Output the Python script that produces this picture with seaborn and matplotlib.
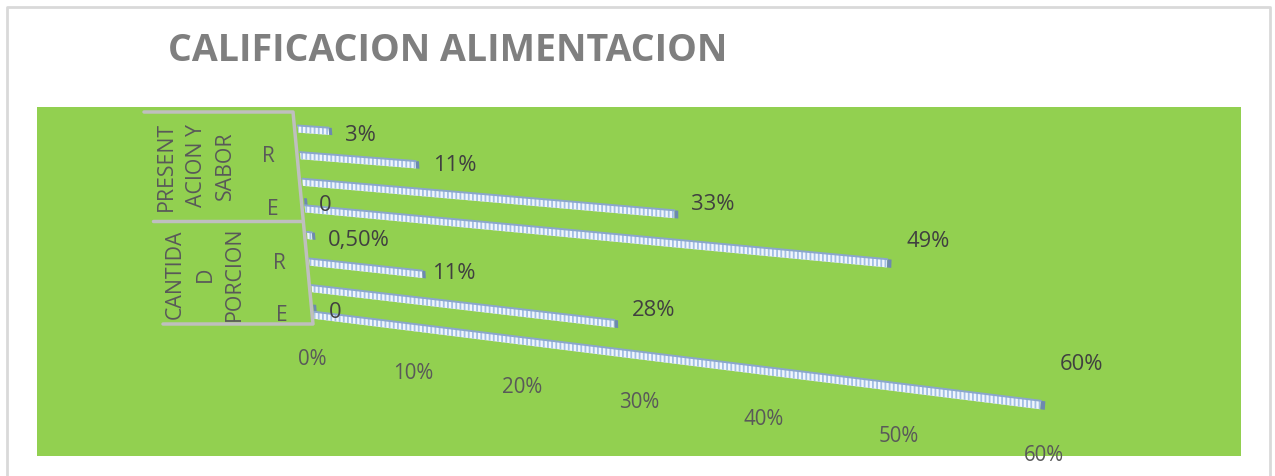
import matplotlib
matplotlib.use("Agg")
import matplotlib.pyplot as plt
import numpy as np
import pandas as pd
import seaborn as sns
from matplotlib.lines import Line2D
from matplotlib.patches import Rectangle
from matplotlib.transforms import Affine2D, Transform

grupos = ["PRESENTACION Y SABOR"] * 4 + ["CANTIDAD PORCION"] * 4
criterios = ["M", "R", "B", "E", "M", "R", "B", "E"]
serie_1 = [3, 11, 33, 49, 0.5, 11, 28, 60]
serie_2 = [np.nan, np.nan, np.nan, 0, np.nan, np.nan, np.nan, 0]
etiquetas_1 = ["3%", "11%", "33%", "49%", "0,50%", "11%", "28%", "60%"]
ticks = [0, 10, 20, 30, 40, 50, 60]

W, H = 1275, 477
px = Affine2D().scale(1, -1).translate(0, H)  # image pixels, y going down


class Perspectiva(Transform):
    # Excel 3D bar look: value axis recedes, rows fan out
    input_dims = 2
    output_dims = 2
    has_inverse = False

    def __init__(self, filas=True):
        super().__init__()
        self.filas = filas

    def transform_non_affine(self, values):
        values = np.asarray(values, dtype=float)
        v, r = values[:, 0], values[:, 1]
        d = 9.86 * v / (1 - 0.0032 * v)
        pendiente = 0.07 + 0.007 * r
        if self.filas:
            d = d * (1.035 - 0.006 * r)
            pendiente = 0.07 + 0.0075 * r
        x = 298 + 2.3 * (r - 0.125) + d
        y = 126.5 + 26.6 * r + pendiente * d
        return np.column_stack([x, H - y])


persp = Perspectiva()
persp_suelo = Perspectiva(filas=False)

sns.set_theme(style="white")
plt.rcParams["font.family"] = ["Open Sans", "DejaVu Sans"]
plt.rcParams["hatch.linewidth"] = 1.3

orden = [g + " " + c + str(i) for i, (g, c) in enumerate(zip(grupos, criterios))]
df = pd.DataFrame({
    "fila": orden * 2,
    "valor": serie_2 + serie_1,
    "serie": ["s2"] * 8 + ["s1"] * 8,
}).dropna()

fig = plt.figure(figsize=(W / 100, H / 100), dpi=100, facecolor="white")
ax = fig.add_axes([37 / W, 1 - 456.6 / H, (1241 - 37) / W, (456 - 107) / H], facecolor="#92d050")

sns.barplot(data=df, y="fila", x="valor", hue="serie", order=orden, hue_order=["s2", "s1"],
            width=0.54, errorbar=None, legend=False, ax=ax, color="#dbe8f7")
ax.set_xlabel("")
ax.set_ylabel("")
ax.set_xticks([])
ax.set_yticks([])
sns.despine(ax=ax, left=True, bottom=True)

# move every bar from the flat axes to the skewed projection, add top edge and end cap
barras = []
for patch in list(ax.patches):
    x0, y0 = patch.get_x(), patch.get_y()
    w, h = patch.get_width(), patch.get_height()
    barras.append((w, y0 + h / 2))
    patch.set_transform(persp)
    patch.set_clip_on(False)
    patch.set_facecolor("#f0f6fd")
    patch.set_edgecolor("#a3bfe4")
    patch.set_linewidth(0)
    patch.set_hatch("||||")
    ax.plot([x0, x0 + w], [y0, y0], color="#8aa6cc", lw=1.4, transform=persp, clip_on=False)
    ax.add_patch(Rectangle((x0 + w, y0), 0.3, h, facecolor="#6d89b0", edgecolor="none",
                           transform=persp, clip_on=False))

# value labels, offsets in pixels from the bar end
offsets = [(16, -3), (17, 0), (17, 11), (19, 23), (16, -4), (10, 2), (17, 14), (19, 42)]
filas_s1 = sorted([b for b in barras if b[1] % 1 < 0.5], key=lambda b: b[1])
for (w, r), txt, off in zip(filas_s1, etiquetas_1, offsets):
    ax.annotate(txt, xy=(w, r), xycoords=persp, xytext=off, textcoords="offset pixels",
                ha="left", va="center", fontsize=15.8, color="#404040", annotation_clip=False)
for w, r in sorted([b for b in barras if b[1] % 1 >= 0.5], key=lambda b: b[1]):
    ax.annotate("0", xy=(w, r), xycoords=persp, xytext=(15, -3), textcoords="offset pixels",
                ha="left", va="center", fontsize=15.8, color="#404040", annotation_clip=False)

# value axis labels run along the receding floor
for t in ticks:
    ax.annotate(f"{t}%", xy=(t, 8.73), xycoords=persp_suelo, xytext=(-6, -1), textcoords="offset pixels",
                ha="center", va="center", fontsize=14.8, color="#595959", annotation_clip=False)

# category axis
gris = "#bfbfbf"
for xs, ys in [([144, 293, 313, 163], [113, 113, 325, 325]), ([153, 302], [222, 222])]:
    fig.add_artist(Line2D(xs, ys, color=gris, lw=2.5, transform=px))
for x, y, s in [(196, 166, "PRESENT\nACION Y\nSABOR"), (205, 274, "CANTIDA\nD\nPORCION")]:
    fig.text(x, y, s, transform=px, rotation=90, ha="center", va="center", multialignment="center",
             fontsize=15.3, color="#595959", linespacing=1.55)
for x, y, s in [(268, 157, "R"), (273, 210, "E"), (279, 264, "R"), (282, 316, "E")]:
    fig.text(x, y, s, transform=px, ha="center", va="center", fontsize=15, color="#595959")

fig.text(168, 51, "CALIFICACION ALIMENTACION", transform=px, ha="left", va="center",
         fontsize=27, fontweight="bold", color="#7f7f7f")

# chart frame
borde = "#d9d9d9"
fig.add_artist(Line2D([7, 7, 1270, 1270], [H, 8, 8, H], color=borde, lw=2, transform=px))

fig.savefig("out.png", dpi=100)
